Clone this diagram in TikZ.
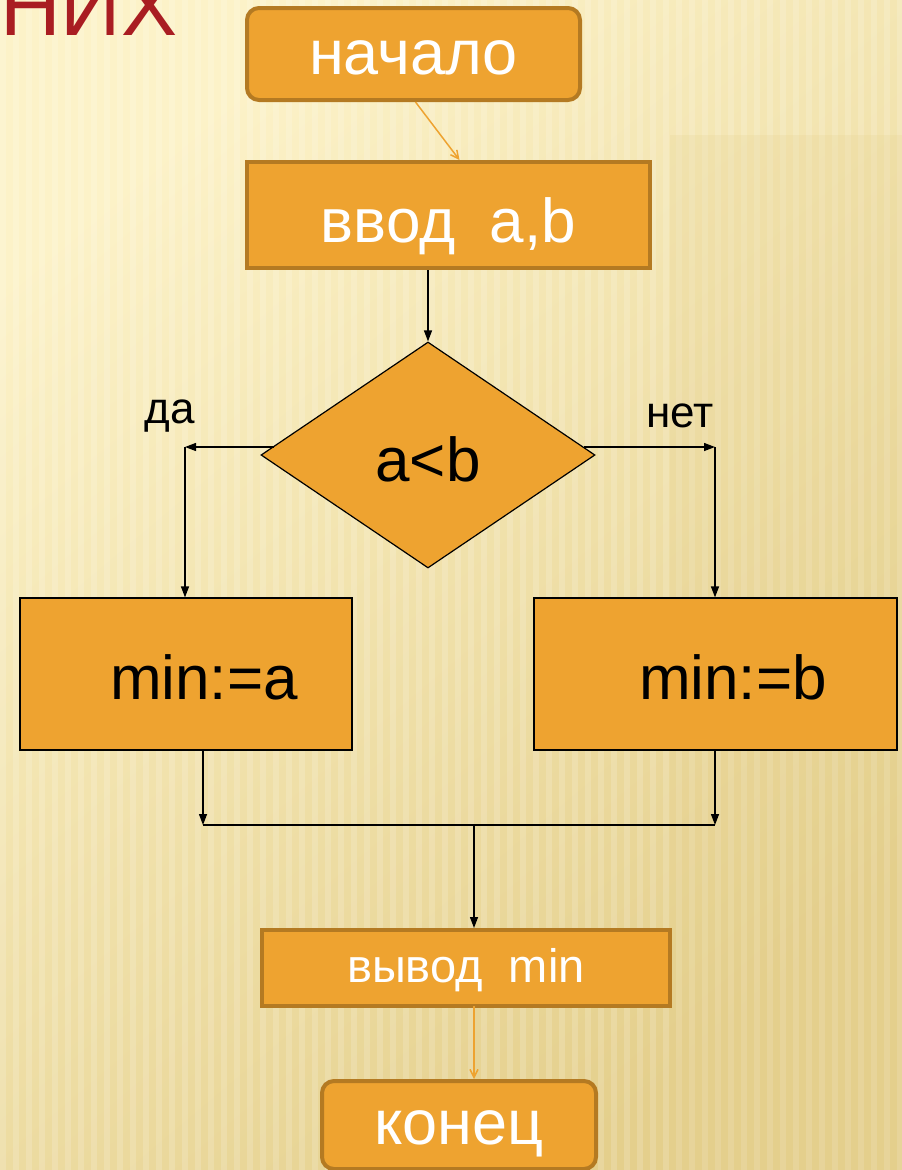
\documentclass[tikz,border=0pt]{standalone}
\usepackage{fontspec}
\setmainfont{Liberation Sans}
\usetikzlibrary{shapes.geometric,arrows.meta,calc}
\definecolor{bgA}{HTML}{FCF2C8}
\definecolor{bgB}{HTML}{E4CF8C}
\definecolor{boxfill}{HTML}{EEA330}
\definecolor{boxedge}{HTML}{B47A22}
\definecolor{titlered}{HTML}{A91D22}
\newcommand{\fs}[1]{\fontsize{#1}{#1}\selectfont}
\begin{document}
\begin{tikzpicture}[x=1pt,y=-1pt,
  termbox/.style={draw=boxedge,line width=4pt,fill=boxfill,rounded corners=12pt,inner sep=0pt,text=white,font=\fs{63},text depth=0pt},
  iobox/.style={draw=boxedge,line width=4pt,fill=boxfill,inner sep=0pt,text=white,text depth=0pt},
  procbox/.style={draw=black,line width=1.2pt,fill=boxfill,inner sep=0pt,text=black,font=\fs{62}},
  decbox/.style={diamond,draw=black,line width=1.2pt,fill=boxfill,inner sep=0pt,aspect=1.48,text=black,font=\fs{62}},
  blk/.style={draw=black,line width=1.3pt},
  blkarr/.style={blk,-{Triangle[length=11pt,width=8pt]}},
  orarr/.style={draw=boxfill,line width=1.5pt,-{Straight Barb[length=8pt,width=8pt]}},
  lbl/.style={text=black,font=\fs{44},inner sep=0pt}
]
\useasboundingbox (0,0) rectangle (902,1170);
\shade[top color=bgA,bottom color=bgB,shading angle=40] (0,0) rectangle (902,1170);
\foreach \i in {0,13,...,902} \fill[white,opacity=0.16] (\i,0) rectangle ++(6,1170);
\fill[bgB,opacity=0.2] (670,135) rectangle (902,1170);

\node[anchor=base west,text=titlered,font=\fs{84},inner sep=0pt] (title) at (0,35) {НИХ};

\node[termbox,minimum width=333,minimum height=92,text height=40pt] (start) at (413.5,54) {начало};
\node[iobox,minimum width=403,minimum height=106,font=\fs{62},text height=55pt] (inp) at (448.5,215) {ввод\ \ a,b};
\node[decbox,minimum width=334,minimum height=226] (dia) at (428,455) {};
\node[text=black,font=\fs{62},inner sep=0pt] (cond) at (428,459) {a<b};
\node[lbl] (yes) at (170,416) {да};
\node[lbl] (no) at (680,416) {нет};
\node[procbox,minimum width=332,minimum height=152] (ba) at (186,674) {};
\node[text=black,font=\fs{62},inner sep=0pt] (ta) at (204,677) {min:=a};
\node[procbox,minimum width=363,minimum height=152] (bb) at (715.5,674) {};
\node[text=black,font=\fs{62},inner sep=0pt] (tb) at (733,677) {min:=b};
\node[iobox,minimum width=408,minimum height=76,font=\fs{47},text height=28pt] (out) at (466,968) {вывод\ \ min};
\node[termbox,minimum width=274,minimum height=88,text height=39pt] (stop) at (459,1125) {конец};

\coordinate (sa) at ($(start.south)+(2,0)$);
\coordinate (ia) at ($(inp.north)+(11,0)$);
\draw[orarr] (sa) -- (ia);
\draw[blkarr] (inp.south -| dia.north) -- (dia.north);

\coordinate (dl) at (274,447);
\coordinate (yl) at (185,447);
\coordinate (dr) at (584,447);
\coordinate (yr) at (715,447);
\draw[blkarr] (dl) -- (yl);
\draw[blkarr] (yl) -- (yl |- ba.north);
\draw[blkarr] (dr) -- (yr);
\draw[blkarr] (yr) -- (yr |- bb.north);

\coordinate (la) at (203,750);
\coordinate (ma) at (203,825);
\coordinate (lb) at (715,750);
\coordinate (mb) at (715,825);
\coordinate (mc) at (474,825);
\draw[blkarr] (la) -- (ma);
\draw[blkarr] (lb) -- (mb);
\draw[blk] (ma) -- (mb);
\draw[blkarr] (mc) -- (mc |- out.north);

\coordinate (oa) at (474,1006);
\draw[orarr] (oa) -- (oa |- stop.north);
\end{tikzpicture}
\end{document}
